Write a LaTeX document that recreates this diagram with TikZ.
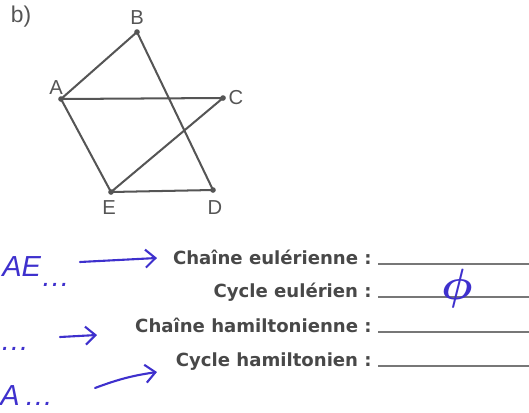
\documentclass[tikz,border=0pt]{standalone}
\usepackage{fontspec}
\usepackage{bm}
\setmainfont{Liberation Sans}
\newfontfamily\printbold{DejaVu Sans}
\usetikzlibrary{arrows.meta}

\definecolor{inkgray}{RGB}{85,85,85}
\definecolor{penblue}{RGB}{62,48,205}

\tikzset{
  vlabel/.style={font=\fontsize{11.5}{13}\selectfont, text=inkgray, inner sep=0pt},
  edge/.style={inkgray, line width=1.15pt},
  question/.style={font=\printbold\bfseries\fontsize{10.3}{12}\selectfont, text=inkgray!85!black, anchor=base east, inner sep=0pt},
  answerline/.style={inkgray!80, line width=1pt},
  hand/.style={penblue, line width=1.2pt, line cap=round, -{Straight Barb[length=2mm, width=3.6mm]}},
  handtext/.style={penblue, font=\itshape\fontsize{16.5}{18}\selectfont, inner sep=0pt, anchor=base west},
}

\begin{document}
\begin{tikzpicture}[x=0.02cm, y=-0.02cm]

  \useasboundingbox (0,0) rectangle (529,413);

  % --- Graph ---
  \node[vlabel, font=\fontsize{13}{15}\selectfont] (part) at (21,17) {b)};

  \coordinate (A) at (61,99);
  \coordinate (B) at (137,32);
  \coordinate (C) at (223,98);
  \coordinate (D) at (213,190);
  \coordinate (E) at (111,192);

  \draw[edge] (A) -- (B) -- (D) -- (E) -- (A) -- (C) -- (E);

  \foreach \v in {A,B,C,D,E} {
    \fill[inkgray] (\v) circle (1.6pt);
  }

  \node[vlabel] (lA) at (56,88) {A};
  \node[vlabel] (lB) at (137,18) {B};
  \node[vlabel] (lC) at (236,98) {C};
  \node[vlabel] (lD) at (215,208) {D};
  \node[vlabel] (lE) at (109,208) {E};

  % --- Questions ---
  \coordinate (rim) at (529,0);
  \foreach \y/\txt [count=\i] in {264/Chaîne eulérienne, 297/Cycle eulérien,
                                 332/Chaîne hamiltonienne, 366/Cycle hamiltonien} {
    \node[question] (q\i) at (372,\y) {\txt~:};
    \draw[answerline] ([xshift=3.5pt]q\i.base east) -- (rim |- q\i.base);
  }

  % --- Handwritten answers ---
  \node[handtext] (h1) at (2,276) {AE\raisebox{-6pt}{\ldots}};
  \node[handtext] (h2) at (0,350) {\ldots};
  \node[handtext] (h3) at (0,405) {A\,\ldots};
  \node[penblue, font=\fontsize{27}{29}\selectfont, inner sep=0pt] (phi) at (457,289) {$\bm{\phi}$};

  \coordinate (s1) at (80,262);
  \coordinate (t1) at (157,258);
  \coordinate (s2) at (60,337);
  \coordinate (t2) at (97,335);
  \coordinate (s3) at (95,388);
  \coordinate (t3) at (157,372);

  \draw[hand] (s1) -- (t1);
  \draw[hand] (s2) -- (t2);
  \draw[hand] (s3) to[bend left=6] (t3);

\end{tikzpicture}
\end{document}
